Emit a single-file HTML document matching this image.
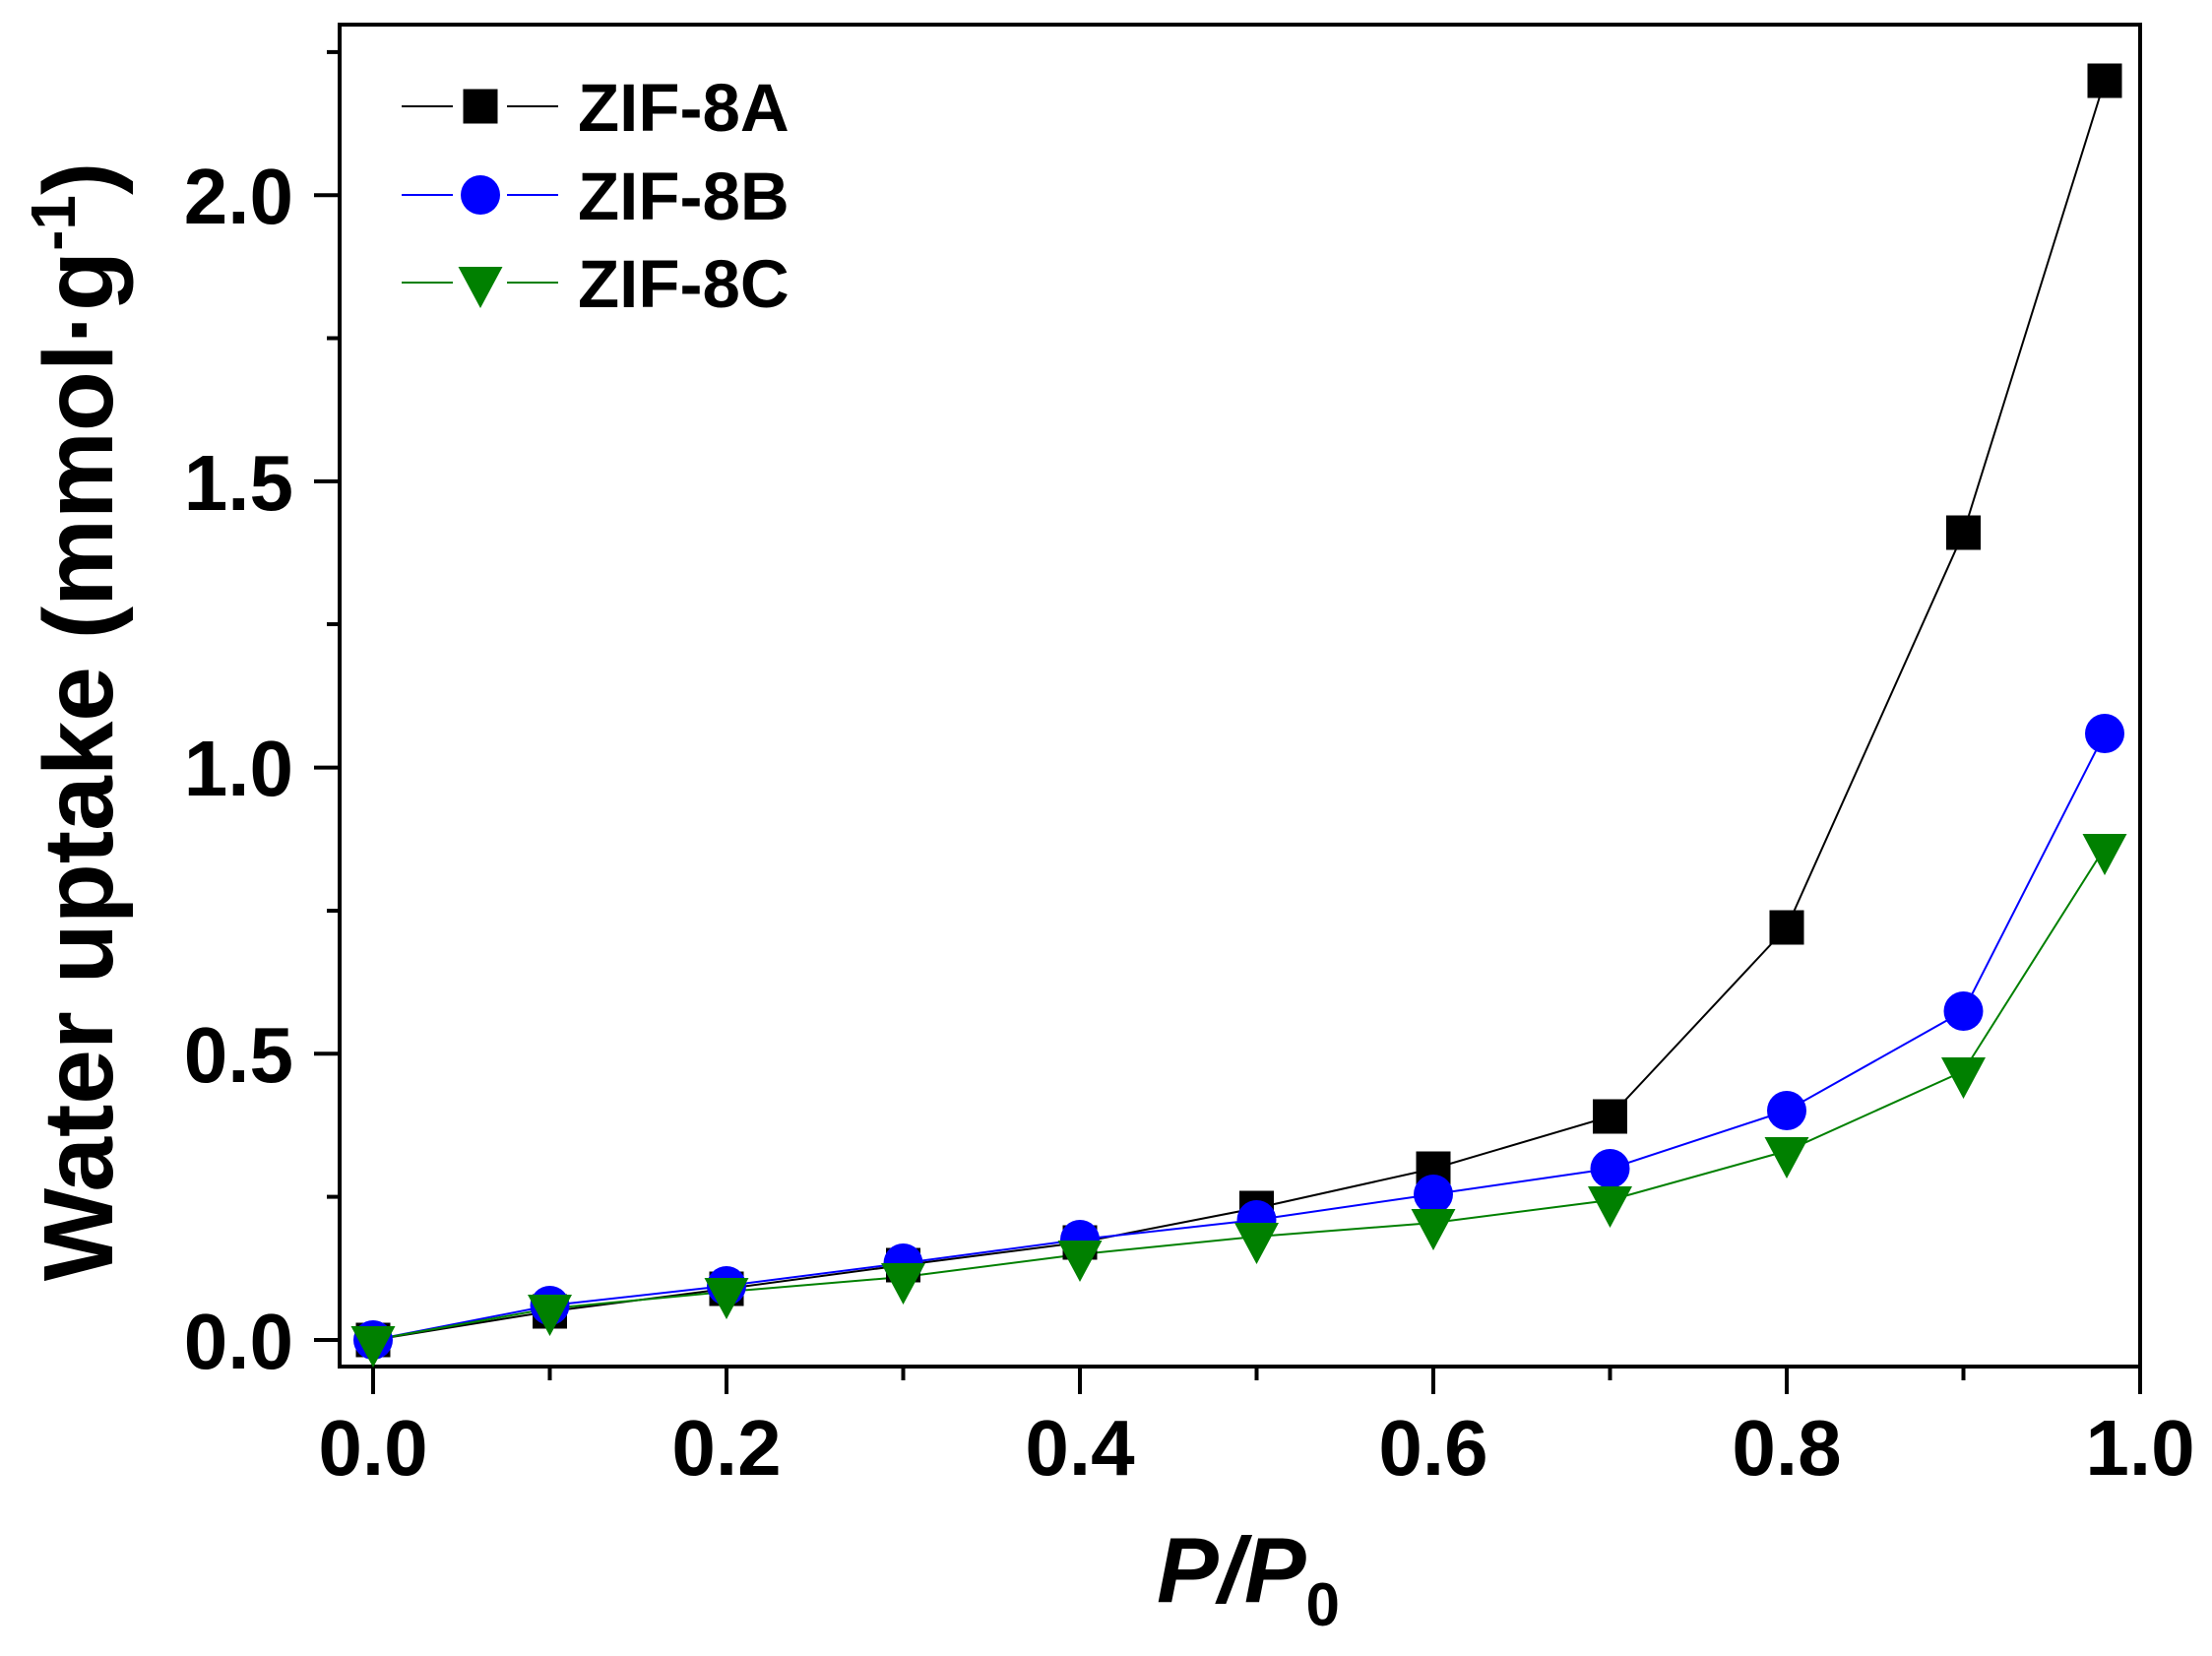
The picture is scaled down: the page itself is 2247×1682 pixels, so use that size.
<!DOCTYPE html>
<html><head><meta charset="utf-8"><style>html,body{margin:0;padding:0;background:#fff}</style></head>
<body>
<svg width="2247" height="1677" xmlns="http://www.w3.org/2000/svg" font-family="'Liberation Sans', Arial, sans-serif" font-weight="bold">
<rect width="2247" height="1677" fill="#fff"/>
<rect x="345" y="25" width="1829" height="1363" fill="none" stroke="#000" stroke-width="4"/>
<g stroke="#000" stroke-width="4">
<line x1="379" y1="1388" x2="379" y2="1416"/><line x1="558.5" y1="1388" x2="558.5" y2="1402"/>
<line x1="738" y1="1388" x2="738" y2="1416"/><line x1="917.5" y1="1388" x2="917.5" y2="1402"/>
<line x1="1097" y1="1388" x2="1097" y2="1416"/><line x1="1276.5" y1="1388" x2="1276.5" y2="1402"/>
<line x1="1456" y1="1388" x2="1456" y2="1416"/><line x1="1635.5" y1="1388" x2="1635.5" y2="1402"/>
<line x1="1815" y1="1388" x2="1815" y2="1416"/><line x1="1994.5" y1="1388" x2="1994.5" y2="1402"/>
<line x1="2174" y1="1388" x2="2174" y2="1416"/>
<line x1="319" y1="1361" x2="345" y2="1361"/><line x1="332" y1="1215.6" x2="345" y2="1215.6"/>
<line x1="319" y1="1070.3" x2="345" y2="1070.3"/><line x1="332" y1="925" x2="345" y2="925"/>
<line x1="319" y1="779.6" x2="345" y2="779.6"/><line x1="332" y1="634" x2="345" y2="634"/>
<line x1="319" y1="488.9" x2="345" y2="488.9"/><line x1="332" y1="343.5" x2="345" y2="343.5"/>
<line x1="319" y1="198.2" x2="345" y2="198.2"/><line x1="332" y1="52.9" x2="345" y2="52.9"/>
</g>
<g font-size="80" text-anchor="middle">
<text x="379" y="1498">0.0</text><text x="738" y="1498">0.2</text><text x="1097" y="1498">0.4</text>
<text x="1456" y="1498">0.6</text><text x="1815" y="1498">0.8</text><text x="2174" y="1498">1.0</text>
</g>
<g font-size="80" text-anchor="end">
<text x="298" y="1390">0.0</text><text x="298" y="1099">0.5</text><text x="298" y="808">1.0</text>
<text x="298" y="518">1.5</text><text x="298" y="227">2.0</text>
</g>
<text x="1268" y="1627" font-size="94" text-anchor="middle" font-style="italic">P/P<tspan font-size="62" font-style="normal" dy="24">0</tspan></text>
<text transform="translate(114,733) rotate(-90)" font-size="100" text-anchor="middle">Water uptake (mmol·g<tspan font-size="64" dy="-38">-1</tspan><tspan dy="38">)</tspan></text>
<polyline fill="none" stroke="#000" stroke-width="2" points="379,1361 558.5,1332 738,1309 917.5,1285 1097,1262 1276.5,1227 1456,1187 1635.5,1134 1815,942 1994.5,541 2138,82"/>
<polyline fill="none" stroke="#0000ff" stroke-width="2" points="379,1361 558.5,1326 738,1306 917.5,1283 1097,1259 1276.5,1239 1456,1213 1635.5,1187 1815,1128 1994.5,1027 2138,745"/>
<polyline fill="none" stroke="#008000" stroke-width="2" points="379,1361 558.5,1329 738,1312 917.5,1297 1097,1274 1276.5,1256 1456,1242 1635.5,1219 1815,1169 1994.5,1088 2138,861"/>
<g fill="#000">
<rect x="361.5" y="1343.5" width="35" height="35"/><rect x="541" y="1314.5" width="35" height="35"/><rect x="720.5" y="1291.5" width="35" height="35"/><rect x="900" y="1267.5" width="35" height="35"/><rect x="1079.5" y="1244.5" width="35" height="35"/><rect x="1259" y="1209.5" width="35" height="35"/><rect x="1438.5" y="1169.5" width="35" height="35"/><rect x="1618" y="1116.5" width="35" height="35"/><rect x="1797.5" y="924.5" width="35" height="35"/><rect x="1977" y="523.5" width="35" height="35"/><rect x="2120.5" y="64.5" width="35" height="35"/>
</g>
<g fill="#0000ff">
<circle cx="379" cy="1361" r="20"/><circle cx="558.5" cy="1326" r="20"/><circle cx="738" cy="1306" r="20"/><circle cx="917.5" cy="1283" r="20"/><circle cx="1097" cy="1259" r="20"/><circle cx="1276.5" cy="1239" r="20"/><circle cx="1456" cy="1213" r="20"/><circle cx="1635.5" cy="1187" r="20"/><circle cx="1815" cy="1128" r="20"/><circle cx="1994.5" cy="1027" r="20"/><circle cx="2138" cy="745" r="20"/>
</g>
<g fill="#008000">
<path d="M356.5,1347h45l-22.5,42z"/><path d="M536,1315h45l-22.5,42z"/><path d="M715.5,1298h45l-22.5,42z"/><path d="M895,1283h45l-22.5,42z"/><path d="M1074.5,1260h45l-22.5,42z"/><path d="M1254,1242h45l-22.5,42z"/><path d="M1433.5,1228h45l-22.5,42z"/><path d="M1613,1205h45l-22.5,42z"/><path d="M1792.5,1155h45l-22.5,42z"/><path d="M1972,1074h45l-22.5,42z"/><path d="M2115.5,847h45l-22.5,42z"/>
</g>
<g stroke-width="2">
<line x1="408" y1="108" x2="460" y2="108" stroke="#000"/><line x1="515" y1="108" x2="567" y2="108" stroke="#000"/>
<line x1="408" y1="198" x2="460" y2="198" stroke="#0000ff"/><line x1="515" y1="198" x2="567" y2="198" stroke="#0000ff"/>
<line x1="408" y1="287" x2="460" y2="287" stroke="#008000"/><line x1="515" y1="287" x2="567" y2="287" stroke="#008000"/>
</g>
<rect x="470.5" y="90.5" width="35" height="35" fill="#000"/>
<circle cx="488" cy="198" r="20" fill="#0000ff"/>
<path d="M465.5,271h45l-22.5,42z" fill="#008000"/>
<g font-size="69">
<text x="587" y="133">ZIF-8A</text><text x="587" y="223">ZIF-8B</text><text x="587" y="312">ZIF-8C</text>
</g>
</svg>
</body></html>
